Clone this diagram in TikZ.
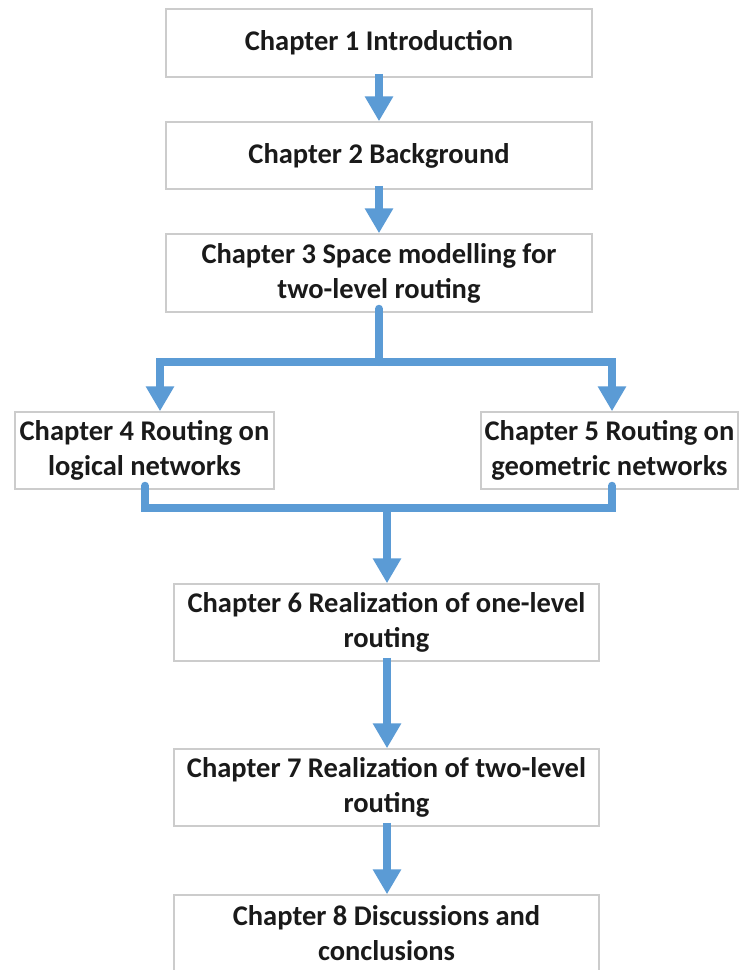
\documentclass[tikz,border=0pt]{standalone}
\usepackage{fontspec}
\setmainfont{Carlito}
\usetikzlibrary{arrows.meta,calc}
\definecolor{flowblue}{HTML}{5B9BD5}
\definecolor{boxgray}{HTML}{CCCCCC}
\definecolor{txt}{HTML}{1A1A1A}
\tikzset{
  chap/.style={draw=boxgray, line width=1.5pt, fill=white, align=center,
    inner sep=0pt, text=txt,
    font=\fontsize{28.5}{35}\selectfont\bfseries},
  flow/.style={draw=flowblue, line width=8pt, line cap=round, line join=miter},
  arr/.style={-{Triangle[width=27pt,length=25pt]}, line cap=butt}
}
\begin{document}
\begin{tikzpicture}[x=1pt,y=-1pt]
\useasboundingbox (0,0) rectangle (740,970);
\clip (0,0) rectangle (740,970);
% coordinates for branch/merge
\coordinate (j1) at (379,362);
\coordinate (j2) at (387,508);
\coordinate (xL) at (160,0);
\coordinate (xR) at (612,0);
\coordinate (xLb) at (145,0);
% boxes
\node[chap, minimum width=426pt, minimum height=68pt] (b1) at (379,43) {Chapter 1 Introduction};
\node[chap, minimum width=426pt, minimum height=67pt] (b2) at (379,155.5) {Chapter 2 Background};
\node[chap, minimum width=426pt, minimum height=78pt] (b3) at (379,273) {Chapter 3 Space modelling for\\two-level routing};
\node[chap, minimum width=259pt, minimum height=77pt] (b4) at (144.5,450.5) {Chapter 4 Routing on\\logical networks};
\node[chap, minimum width=257pt, minimum height=77pt] (b5) at (609.5,450.5) {Chapter 5 Routing on\\geometric networks};
\node[chap, minimum width=425pt, minimum height=77pt] (b6) at (386.5,622.5) {Chapter 6 Realization of one-level\\routing};
\node[chap, minimum width=425pt, minimum height=77pt] (b7) at (386.5,787.5) {Chapter 7 Realization of two-level\\routing};
\node[chap, minimum width=425pt, minimum height=77pt] (b8) at (386.5,933.5) {Chapter 8 Discussions and\\conclusions};
% connectors
\draw[flow,arr] ($(b1.south)+(0,-4)$) -- (b2.north);
\draw[flow,arr] ($(b2.south)+(0,-4)$) -- (b3.north);
\draw[flow] ($(b3.south)+(0,-4)$) -- (j1);
\draw[flow,arr] (j1) -| (b4.north -| xL);
\draw[flow,arr] (j1) -| (b5.north -| xR);
\draw[flow] ($(b4.south -| xLb)+(0,-4)$) |- (j2);
\draw[flow] ($(b5.south -| xR)+(0,-4)$) |- (j2);
\draw[flow,arr] (j2) -- (b6.north -| j2);
\draw[flow,arr] ($(b6.south -| j2)+(0,-4)$) -- (b7.north -| j2);
\draw[flow,arr] ($(b7.south -| j2)+(0,-4)$) -- (b8.north -| j2);
\end{tikzpicture}
\end{document}
